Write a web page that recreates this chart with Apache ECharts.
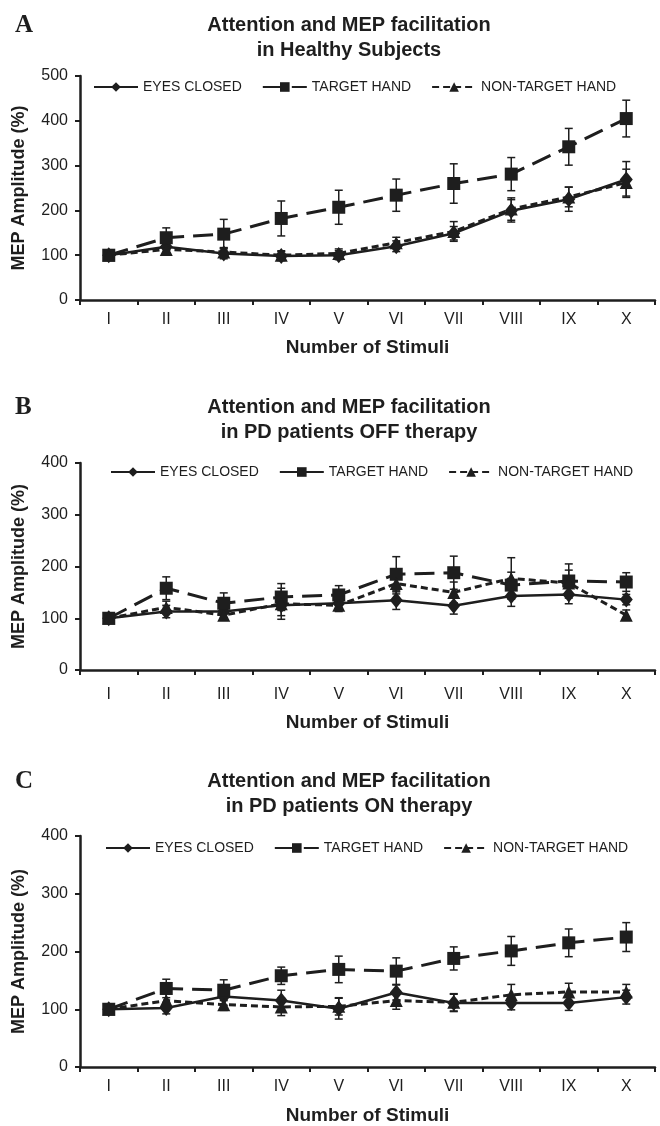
<!DOCTYPE html>
<html>
<head>
<meta charset="utf-8">
<script src="https://cdn.jsdelivr.net/npm/echarts@6/dist/echarts.min.js"></script>
<style>
  html, body { margin: 0; padding: 0; background: #fff; }
  #main { width: 660px; height: 1126px; }
</style>
</head>
<body>
<div id="main"></div>
<script>
// categories
var stimuli = ['I', 'II', 'III', 'IV', 'V', 'VI', 'VII', 'VIII', 'IX', 'X'];

// A - healthy subjects
var healthyEyes = [100, 119, 104, 98, 100, 120, 149, 199, 225, 269];
var healthyEyesErr = [5, 18, 12, 10, 10, 12, 15, 25, 27, 40];
var healthyTarget = [100, 139, 147, 182, 207, 234, 260, 281, 342, 405];
var healthyTargetErr = [5, 22, 33, 39, 38, 36, 44, 37, 41, 41];
var healthyNon = [100, 113, 107, 100, 104, 128, 153, 203, 230, 262];
var healthyNonErr = [5, 12, 10, 10, 10, 12, 22, 25, 22, 30];

// B - PD OFF therapy
var offEyes = [100, 113, 113, 125, 129, 135, 124, 143, 146, 136];
var offEyesErr = [5, 12, 12, 20, 12, 18, 16, 20, 18, 10];
var offTarget = [100, 158, 129, 141, 145, 185, 188, 164, 172, 170];
var offTargetErr = [5, 22, 20, 26, 18, 34, 32, 25, 33, 18];
var offNon = [100, 121, 106, 128, 125, 167, 150, 177, 168, 106];
var offNonErr = [5, 12, 10, 30, 12, 20, 20, 40, 25, 10];

// C - PD ON therapy
var onEyes = [100, 102, 122, 115, 101, 129, 111, 111, 111, 121];
var onEyesErr = [5, 10, 15, 18, 18, 13, 15, 12, 13, 12];
var onTarget = [100, 136, 133, 158, 169, 166, 188, 201, 215, 225];
var onTargetErr = [5, 16, 18, 15, 23, 23, 20, 25, 24, 25];
var onNon = [100, 115, 108, 104, 105, 115, 112, 125, 130, 130];
var onNonErr = [5, 12, 10, 15, 15, 15, 15, 18, 15, 13];

var names = ['EYES CLOSED', 'TARGET HAND', 'NON-TARGET HAND'];
var ink = '#1e1e1e';
var sans = "'Liberation Sans', Arial, sans-serif";

var chart = echarts.init(document.getElementById('main'));

function errorBars(vals, errs, idx) {
  return {
    type: 'custom',
    xAxisIndex: idx,
    yAxisIndex: idx,
    z: 1,
    silent: true,
    data: vals.map(function (v, i) { return [i, v, errs[i]]; }),
    renderItem: function (params, api) {
      var top = api.coord([api.value(0), api.value(1) + api.value(2)]);
      var bot = api.coord([api.value(0), api.value(1) - api.value(2)]);
      var hw = 4;
      var st = { stroke: ink, lineWidth: 1.5 };
      return {
        type: 'group',
        children: [
          { type: 'line', shape: { x1: top[0], y1: top[1], x2: bot[0], y2: bot[1] }, style: st },
          { type: 'line', shape: { x1: top[0] - hw, y1: top[1], x2: top[0] + hw, y2: top[1] }, style: st },
          { type: 'line', shape: { x1: bot[0] - hw, y1: bot[1], x2: bot[0] + hw, y2: bot[1] }, style: st }
        ]
      };
    }
  };
}

function lines(idx, eyes, target, non) {
  var base = { type: 'line', xAxisIndex: idx, yAxisIndex: idx, z: 3, animation: false };
  return [
    Object.assign({}, base, {
      name: names[0], data: eyes, symbol: 'diamond', symbolSize: [13, 16],
      lineStyle: { color: ink, width: 2.5, type: 'solid' }, itemStyle: { color: ink }
    }),
    Object.assign({}, base, {
      name: names[1], data: target, symbol: 'rect', symbolSize: 13,
      lineStyle: { color: ink, width: 3, type: [20, 9] }, itemStyle: { color: ink }
    }),
    Object.assign({}, base, {
      name: names[2], data: non, symbol: 'triangle', symbolSize: 13,
      lineStyle: { color: ink, width: 3, type: [7, 4] }, itemStyle: { color: ink }
    })
  ];
}

var grids = [
  { left: 80, width: 575, top: 76, height: 224 },
  { left: 80, width: 575, top: 463, height: 207 },
  { left: 80, width: 575, top: 836, height: 232.5 }
];
var maxes = [500, 400, 400];
var labelMargins = [12, 17, 12];
var nameGaps = [38, 43, 39];

var xAxes = grids.map(function (g, i) {
  return {
    type: 'category', gridIndex: i, data: stimuli, boundaryGap: true,
    axisLine: { lineStyle: { color: ink, width: 2.5 } },
    axisTick: { show: true, length: 5, inside: false, lineStyle: { color: ink, width: 2 } },
    axisLabel: { color: ink, fontSize: 16, fontFamily: sans, margin: labelMargins[i] },
    name: 'Number of Stimuli', nameLocation: 'middle', nameGap: nameGaps[i],
    nameTextStyle: { color: ink, fontSize: 19, fontWeight: 'bold', fontFamily: sans }
  };
});
var yAxes = grids.map(function (g, i) {
  return {
    type: 'value', gridIndex: i, min: 0, max: maxes[i], interval: 100,
    splitLine: { show: false },
    axisLine: { show: true, lineStyle: { color: ink, width: 2.5 } },
    axisTick: { show: true, length: 5, lineStyle: { color: ink, width: 2 } },
    axisLabel: { color: ink, fontSize: 16, fontFamily: sans, margin: 12 },
    name: 'MEP Amplitude (%)', nameLocation: 'middle', nameGap: 52, nameRotate: 90,
    nameTextStyle: { color: ink, fontSize: 18, fontWeight: 'bold', fontFamily: sans }
  };
});

var titleTexts = [
  'Attention and MEP facilitation\nin Healthy Subjects',
  'Attention and MEP facilitation\nin PD patients OFF therapy',
  'Attention and MEP facilitation\nin PD patients ON therapy'
];
var titleTops = [8, 390, 764];
var panelLetters = ['A', 'B', 'C'];
var titles = [];
titleTexts.forEach(function (t, i) {
  titles.push({
    text: t, left: 344, top: titleTops[i], textAlign: 'center',
    textStyle: { color: ink, fontSize: 20, fontWeight: 'bold', fontFamily: sans, lineHeight: 25 }
  });
  titles.push({
    text: panelLetters[i], left: 10, top: titleTops[i],
    textStyle: { color: ink, fontSize: 25, fontWeight: 'bold', fontFamily: "'Liberation Serif', 'Times New Roman', serif" }
  });
});

var legendTops = [75, 460, 836];
var legendLefts = [88, 105, 100];
var legends = legendTops.map(function (t, i) {
  var data = names.slice();
  if (i === 1) {
    data = [
      { name: names[0], lineStyle: { width: 2 } },
      { name: names[1], lineStyle: { width: 2, type: 'solid' } },
      { name: names[2], lineStyle: { width: 2 } }
    ];
  }
  return {
    data: data, top: t, left: legendLefts[i], itemWidth: 44, itemHeight: 12, itemGap: 20,
    textStyle: { color: ink, fontSize: 14, fontFamily: sans },
    selectedMode: false
  };
});

var series = []
  .concat(lines(0, healthyEyes, healthyTarget, healthyNon))
  .concat([errorBars(healthyEyes, healthyEyesErr, 0), errorBars(healthyTarget, healthyTargetErr, 0), errorBars(healthyNon, healthyNonErr, 0)])
  .concat(lines(1, offEyes, offTarget, offNon))
  .concat([errorBars(offEyes, offEyesErr, 1), errorBars(offTarget, offTargetErr, 1), errorBars(offNon, offNonErr, 1)])
  .concat(lines(2, onEyes, onTarget, onNon))
  .concat([errorBars(onEyes, onEyesErr, 2), errorBars(onTarget, onTargetErr, 2), errorBars(onNon, onNonErr, 2)]);

chart.setOption({
  backgroundColor: '#fff',
  animation: false,
  title: titles,
  legend: legends,
  grid: grids,
  xAxis: xAxes,
  yAxis: yAxes,
  series: series
});

window.addEventListener('resize', function () {
  chart.resize();
});
</script>
</body>
</html>
